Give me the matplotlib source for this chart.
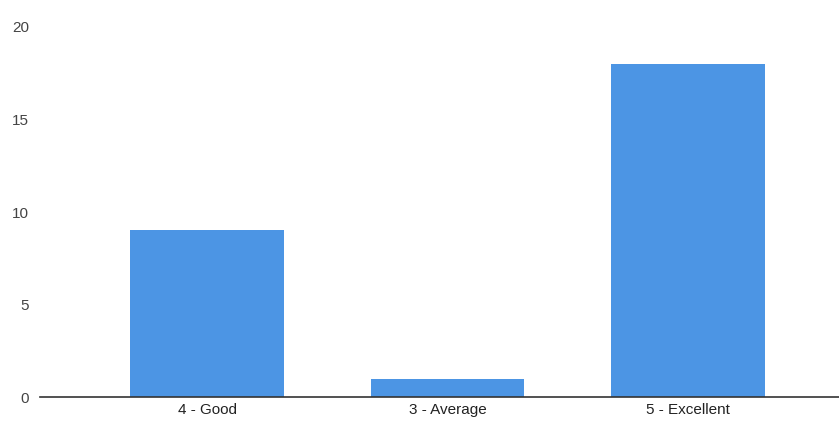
import numpy as np
import matplotlib.pyplot as plt

plt.rcParams['font.family'] = ['Liberation Sans', 'DejaVu Sans']

categories = ['4 - Good', '3 - Average', '5 - Excellent']
counts = [9, 1, 18]
yticks = [0, 5, 10, 15, 20]

fig = plt.figure(figsize=(8.39, 4.23), dpi=100)
ax = fig.add_axes([40/839, 26/423, 799/839, 370/423])

x = np.arange(len(categories))
ax.bar(x, counts, width=0.64, color='#4C95E4', zorder=2)

ax.set_xlim(-0.696, 2.63)
ax.set_ylim(0, 20)
ax.set_xticks(x)
ax.set_xticklabels(categories, fontsize=11, color='#222222')
ax.set_yticks(yticks)
ax.set_yticklabels([str(t) for t in yticks], fontsize=11, color='#444444')
ax.tick_params(length=0)
ax.tick_params(axis='y', pad=8)
ax.tick_params(axis='x', pad=4)

for s in ['top', 'right', 'left']:
    ax.spines[s].set_visible(False)
ax.spines['bottom'].set_color('#333333')
ax.spines['bottom'].set_linewidth(1.2)

fig.savefig('out.png', dpi=100)
